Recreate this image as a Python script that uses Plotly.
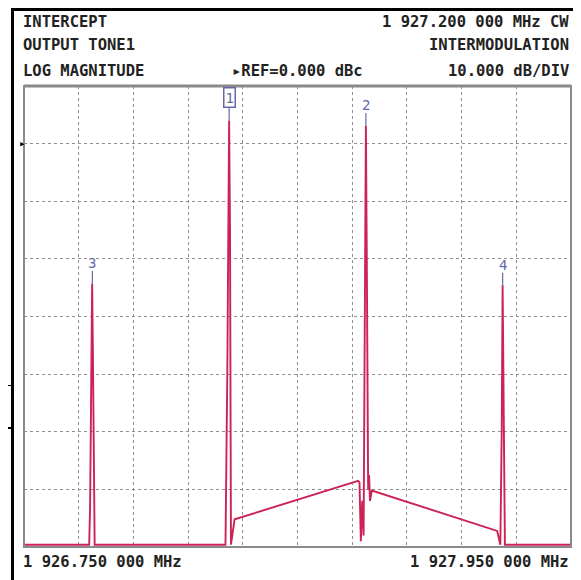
import plotly.graph_objects as go

# sweep settings
f_start = 1926.75
f_stop = 1927.95
ref_db = 0.0
db_per_div = 10.0

# trace points (MHz, dBc)
freq = [1926.750, 1926.893, 1926.895, 1926.8995, 1926.901, 1926.903, 1926.905,
        1927.192, 1927.196, 1927.200, 1927.202, 1927.204, 1927.212,
        1927.483, 1927.486, 1927.489, 1927.492, 1927.495, 1927.4985, 1927.500,
        1927.502, 1927.505, 1927.507, 1927.509, 1927.513,
        1927.788, 1927.795, 1927.798, 1927.800, 1927.802, 1927.805, 1927.950]
mag = [-69.6, -69.6, -63.0, -24.3, -35.0, -63.0, -69.6,
       -69.6, -40.0, 4.0, -16.0, -69.6, -65.2,
       -58.5, -58.8, -69.0, -62.0, -68.0, -30.0, 3.1,
       -20.0, -60.0, -57.5, -62.0, -60.2,
       -67.2, -69.6, -50.0, -24.6, -40.0, -69.6, -69.6]

# markers
mk_labels = ["1", "2", "3", "4"]
mk_freq = [1927.2, 1927.5, 1926.9, 1927.8]
mk_db = [4.0, 3.1, -24.3, -24.6]

header_left = ["INTERCEPT", "OUTPUT TONE1", "LOG MAGNITUDE"]
header_right = ["1 927.200 000 MHz CW", "INTERMODULATION", "10.000 dB/DIV"]
ref_text = "\u25b8REF=0.000 dBc"
start_text = "1 926.750 000 MHz"
stop_text = "1 927.950 000 MHz"

# page body has an 8px margin, so the figure starts 8px in
OFF = 8
W, H = 581 - OFF, 580 - OFF


def px(x):
    # screen pixel -> paper (no margins, paper = whole figure)
    return (x - OFF) / W


def py(y):
    return (H - (y - OFF)) / H


trace_col = "#cc2256"
mk_col = "#6468a8"
font = "DejaVu Sans Mono"

fig = go.Figure()
fig.add_trace(go.Scatter(x=freq, y=mag, mode="lines",
                         line=dict(color=trace_col, width=1.9),
                         hoverinfo="skip", showlegend=False))

# marker stems + labels
for lab, f, d in zip(mk_labels, mk_freq, mk_db):
    fig.add_trace(go.Scatter(x=[f, f], y=[d, d + 2.2], mode="lines",
                             line=dict(color=mk_col, width=1.2),
                             hoverinfo="skip", showlegend=False))
    if lab == "1":
        fig.add_annotation(x=f, y=d + 2.2, text=lab, showarrow=False,
                           yanchor="bottom", font=dict(family=font, size=14, color=mk_col),
                           bordercolor=mk_col, borderwidth=1.5, borderpad=1)
        fig.add_annotation(x=f, y=d + 6.4, text="\u25b2", showarrow=False,
                           yanchor="bottom", font=dict(family=font, size=9, color=mk_col))
    else:
        fig.add_annotation(x=f, y=d + 1.8, text=lab, showarrow=False,
                           yanchor="bottom", font=dict(family=font, size=14, color=mk_col))

fig.update_xaxes(range=[f_start, f_stop], tick0=f_start, dtick=(f_stop - f_start) / 10,
                 domain=[px(24), px(571)],
                 showticklabels=False, ticks="", showgrid=True, gridcolor="#8f8f8f",
                 griddash="dot", gridwidth=1, zeroline=False, showline=False)
fig.update_yaxes(range=[ref_db - 7 * db_per_div, ref_db + db_per_div], dtick=db_per_div,
                 domain=[py(547), py(86)],
                 showticklabels=False, ticks="", showgrid=True, gridcolor="#8f8f8f",
                 griddash="dot", gridwidth=1, zeroline=False, showline=False)

# plot border
fig.add_shape(type="rect", xref="x domain", yref="y domain", x0=0, x1=1, y0=0, y1=1,
              line=dict(color="#8a8a8a", width=2))
fig.add_shape(type="line", xref="x domain", yref="y domain", x0=0, x1=1, y0=1, y1=1,
              line=dict(color="#8a8a8a", width=3))

# outer screen frame: empty annotations with a black background
frame = [(10.5, 8, 3, 572), (10.5, 8, 571, 3), (8, 427, 4, 2), (8, 384.5, 4, 1)]
for x, y, w, h in frame:
    fig.add_annotation(xref="paper", yref="paper", x=px(x), y=py(y), text="",
                       showarrow=False, xanchor="left", yanchor="top",
                       width=w, height=h, bgcolor="black", borderpad=0, borderwidth=0)

tf = dict(family=font, size=15.5, color="#222222")
row_y = [22, 45, 71]
for txt, y in zip(header_left, row_y):
    fig.add_annotation(xref="paper", yref="paper", x=px(21), y=py(y), text="<b>%s</b>" % txt,
                       showarrow=False, xanchor="left", yanchor="middle", font=tf)
for txt, y in zip(header_right, row_y):
    fig.add_annotation(xref="paper", yref="paper", x=px(571), y=py(y), text="<b>%s</b>" % txt,
                       showarrow=False, xanchor="right", yanchor="middle", font=tf)
fig.add_annotation(xref="paper", yref="paper", x=px(230), y=py(71), text="<b>%s</b>" % ref_text,
                   showarrow=False, xanchor="left", yanchor="middle", font=tf)
fig.add_annotation(xref="paper", yref="paper", x=px(21), y=py(562), text="<b>%s</b>" % start_text,
                   showarrow=False, xanchor="left", yanchor="middle", font=tf)
fig.add_annotation(xref="paper", yref="paper", x=px(571), y=py(562), text="<b>%s</b>" % stop_text,
                   showarrow=False, xanchor="right", yanchor="middle", font=tf)
# reference position arrow
fig.add_annotation(xref="paper", yref="y", y=ref_db, x=px(17), text="\u25b8", showarrow=False,
                   font=dict(family=font, size=11, color="black"))

fig.update_layout(width=W, height=H, margin=dict(l=0, r=0, t=0, b=0),
                  plot_bgcolor="white", paper_bgcolor="white")

fig.write_html("out.html")
